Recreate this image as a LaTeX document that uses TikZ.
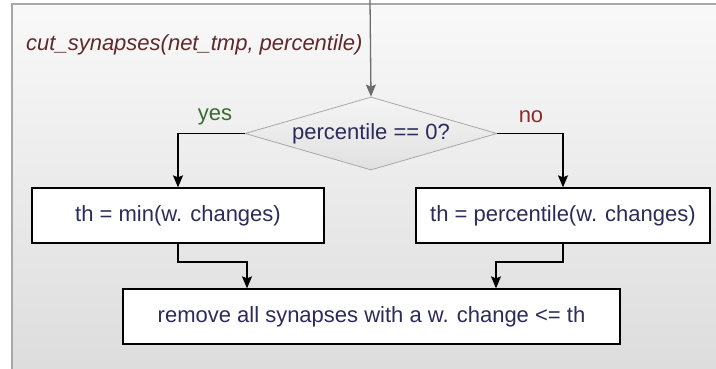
\documentclass[tikz,border=0pt]{standalone}
\usepackage{fontspec}
\setmainfont{Liberation Sans}
\usetikzlibrary{shapes.geometric,arrows.meta}
\definecolor{txtblue}{HTML}{2B2B5C}
\definecolor{titlered}{HTML}{5E2A2C}
\definecolor{yesgreen}{HTML}{3A6B2C}
\definecolor{nored}{HTML}{8E2A2A}
\definecolor{panelline}{HTML}{A8A8A8}
\begin{document}
\begin{tikzpicture}[x=1pt,y=-1pt,
  txt/.style={font=\fontsize{22}{26}\selectfont, text=txtblue},
  stepbox/.style={txt, draw=black, line width=1.3pt, fill=white,
    minimum height=55pt, inner sep=0pt},
  decision/.style={txt, diamond, draw=panelline, line width=0.8pt,
    top color=gray!8, bottom color=gray!24, shape aspect=3.45,
    minimum width=252pt, minimum height=73pt, inner sep=0pt},
  flow/.style={line width=1.3pt, draw=black,
    -{Stealth[width=10pt,length=12pt,inset=2pt]}},
  entry/.style={flow, draw=gray!85!black, -{Stealth[width=10pt,length=12pt,inset=2pt,fill=gray!85!black]}},
  branch/.style={font=\fontsize{22}{26}\selectfont}
]
\useasboundingbox (0,0) rectangle (716,369);

% function panel
\shade[top color=gray!5, bottom color=gray!27] (12,4) rectangle (720,373);
\draw[panelline, line width=2pt] (12,373) -- (12,4) -- (720,4);

% title
\node[anchor=west, inner sep=0pt, text=titlered,
  font=\fontsize{22}{26}\selectfont\itshape] (title) at (26,45)
  {cut\_synapses(net\_tmp, percentile)};

% nodes
\coordinate (in) at (370,0);
\node[decision] (dec) at (371,133.5) {percentile == 0?};
\node[stepbox, minimum width=292pt] (lbox) at (178,215.5) {th = min(w. changes)};
\node[stepbox, minimum width=294pt] (rbox) at (563,215.5) {th = percentile(w. changes)};
\node[stepbox, minimum width=497pt] (bot) at (371.5,316.5) {remove all synapses with a w. change <= th};

% branch labels
\node[branch, text=yesgreen, inner sep=0pt] (yes) at (215,117) {yes};
\node[branch, text=nored, inner sep=0pt] (no) at (531,117) {no};

% junctions before the final step
\coordinate (lj) at (247,262);
\coordinate (rj) at (496,262);

% connectors
\draw[entry] (in) -- (dec.north);
\draw[flow] (dec.west) -| (lbox.north);
\draw[flow] (dec.east) -| (rbox.north);
\draw[flow] (lbox.south) |- (lj) -- (lj |- bot.north);
\draw[flow] (rbox.south) |- (rj) -- (rj |- bot.north);
\end{tikzpicture}
\end{document}
